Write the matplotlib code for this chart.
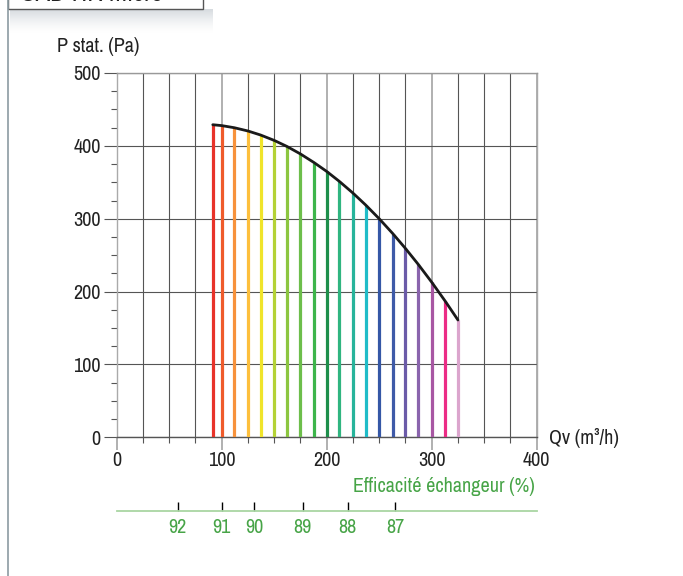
import matplotlib
matplotlib.use("Agg")
import matplotlib.pyplot as plt
from matplotlib import font_manager
from matplotlib.patches import Rectangle
from matplotlib.ticker import MultipleLocator, FixedLocator

# the original uses a condensed face; take a narrow one if there is any
names = sorted({f.name for f in font_manager.fontManager.ttflist})
narrow = [n for n in names if "Narrow" in n or "Condensed" in n]
plt.rcParams['font.family'] = narrow[:1] + ['Liberation Sans', 'DejaVu Sans']

# measured points of the fan curve (Qv m3/h, P stat Pa)
qv = [91.5, 100, 112, 125, 137, 150, 162, 175, 188, 200,
      212, 225, 237, 250, 263, 275, 287, 300, 313, 325]
pstat = [429, 427.8, 424.9, 420.4, 414.9, 407.5, 399.3, 388.9, 377, 364.9,
         351.3, 335.2, 319, 300, 279.5, 259.2, 237.7, 212.9, 186.6, 161]
lineColors = ["#e8332a", "#ef5b2b", "#f7923b", "#fdbf3c", "#f0e42a",
              "#b4d236", "#8cc640", "#6dbe4b", "#3db54b", "#1e8f4b",
              "#30b580", "#27b49b", "#20bcc8", "#3557a6", "#3e5aa8",
              "#6b5ba8", "#8a64ad", "#a857a3", "#ec2c86", "#dba5cd"]

# heat exchanger efficiency scale, placed against Qv
effLabels = [92, 91, 90, 89, 88, 87]
effQv = [58, 100, 131, 177, 220, 265]
effStrong = [False, True, False, False, False, True]

green = "#47a447"
darkGrid = "#555555"
lightGrid = "#aaaaaa"
fs = 14.5

W, H = 683, 576
fig = plt.figure(figsize=(W / 100, H / 100), dpi=100)


def fx(px):
    return px / W


def fy(py):
    return 1 - py / H


# page border and cut-off title box
fig.add_artist(plt.Line2D([fx(8), fx(8)], [0, 1], color="#8c9ba2", lw=1.2))
for i in range(24):
    fig.add_artist(Rectangle((fx(10), fy(10 + i)), fx(203), 1 / H,
                             color="#9aa6b0", alpha=0.4 * (1 - i / 24) ** 1.5,
                             lw=0))
fig.add_artist(Rectangle((fx(8), fy(9)), fx(195), fy(-20) - fy(9),
                         facecolor="white", edgecolor="#555555", lw=1.0))
fig.text(fx(20), fy(1), "CAD HR micro", fontsize=19, fontweight="bold",
         color="#222222", va="baseline", ha="left")

left, right, top, bottom = 116.7, 536.7, 73, 437.3
ax = fig.add_axes([fx(left), fy(bottom), fx(right - left), fy(top) - fy(bottom)])
ax.set_xlim(0, 400)
ax.set_ylim(0, 500)

ax.xaxis.set_major_locator(MultipleLocator(100))
ax.xaxis.set_minor_locator(MultipleLocator(25))
ax.yaxis.set_major_locator(MultipleLocator(100))
ax.yaxis.set_minor_locator(MultipleLocator(25))

ax.set_axisbelow(True)
ax.grid(which="major", axis="x", color=lightGrid, lw=1.3)
ax.grid(which="minor", axis="x", color=darkGrid, lw=0.8)
ax.grid(which="major", axis="y", color=darkGrid, lw=0.8)

ax.tick_params(axis="x", which="major", length=9.5, width=1.3, color=lightGrid,
               labelsize=fs, pad=0.5, labelcolor="#222222")
ax.tick_params(axis="x", which="minor", length=4.5, width=0.8, color=darkGrid)
ax.tick_params(axis="y", which="major", length=9.5, width=0.8, color=darkGrid,
               labelsize=fs, pad=2, labelcolor="#222222")
ax.tick_params(axis="y", which="minor", length=4.5, width=0.8, color=darkGrid)
ax.yaxis.get_major_ticks()[0].tick1line.set_color(lightGrid)

ax.spines["bottom"].set_color(darkGrid)
ax.spines["left"].set_color(lightGrid)
ax.spines["top"].set_color("#999999")
ax.spines["right"].set_color(lightGrid)
for s in ax.spines.values():
    s.set_linewidth(1.0)

ax.vlines(qv, 0, pstat, colors=lineColors, lw=2.3, zorder=3)
ax.plot(qv, pstat, color="#1a1a1a", lw=2.0, zorder=4, solid_capstyle="round")

fig.text(fx(57), fy(47), "P stat. (Pa)", fontsize=fs, color="#222222",
         ha="left", va="center")
fig.text(fx(549), fy(438), "Qv (m³/h)", fontsize=fs, color="#222222",
         ha="left", va="center")
fig.text(fx(535), fy(487), "Efficacité échangeur (%)", fontsize=fs,
         color=green, ha="right", va="center")

# efficiency axis
ex = fig.add_axes([fx(left), fy(510.7), fx(right - left), 0.0001])
ex.set_xlim(0, 400)
ex.set_yticks([])
for k in ["top", "left", "right"]:
    ex.spines[k].set_visible(False)
ex.spines["bottom"].set_color("#a9d6a3")
ex.spines["bottom"].set_linewidth(1.3)
ex.xaxis.set_major_locator(FixedLocator(effQv))
ex.set_xticklabels([str(v) for v in effLabels])
ex.tick_params(axis="x", direction="in", length=6.5, width=1.0,
               labelsize=fs, labelcolor=green, pad=5)
ex.patch.set_visible(False)
for tick, strong in zip(ex.xaxis.get_major_ticks(), effStrong):
    tick.tick1line.set_color(green if strong else "#a9d6a3")

fig.savefig("out.png", dpi=100)
